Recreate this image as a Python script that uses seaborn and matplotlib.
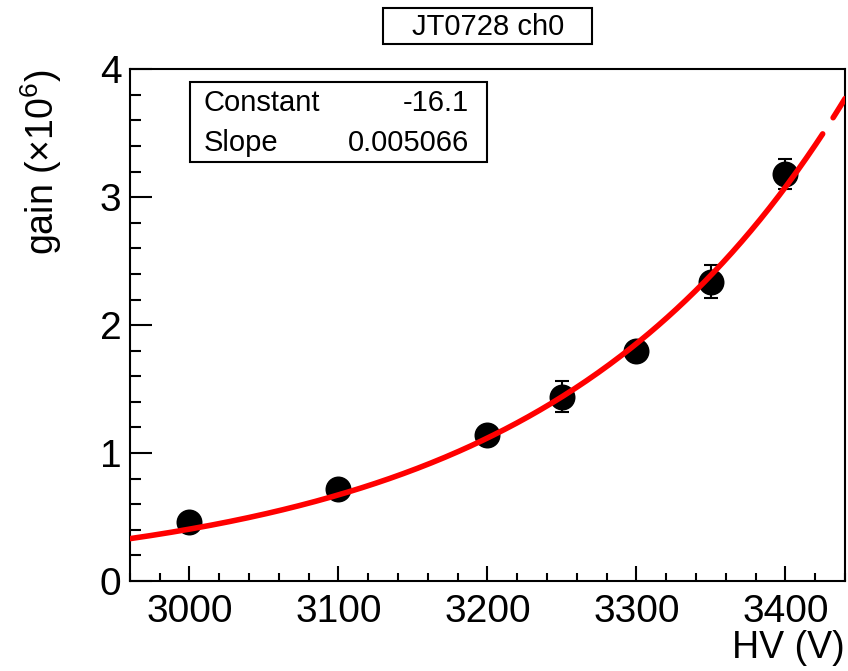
import numpy as np
import pandas as pd
import matplotlib
matplotlib.use("Agg")
import matplotlib.pyplot as plt
import seaborn as sns
from matplotlib.ticker import MultipleLocator

# measured gain points (units of 1e6)
hv = [3000, 3100, 3200, 3250, 3300, 3350, 3400]
gain = [0.46, 0.72, 1.14, 1.44, 1.80, 2.34, 3.18]
gain_err = [0.02, 0.03, 0.05, 0.12, 0.06, 0.13, 0.12]

# exponential fit parameters
fit_const = -16.1
fit_slope = 0.005066

title = "JT0728 ch0"

sns.set_style("ticks")
plt.rcParams['font.family'] = ['Liberation Sans', 'DejaVu Sans']
plt.rcParams['mathtext.fontset'] = 'custom'
plt.rcParams['mathtext.rm'] = 'Liberation Sans'
plt.rcParams['mathtext.it'] = 'Liberation Sans'
plt.rcParams['text.color'] = 'black'
plt.rcParams['axes.labelcolor'] = 'black'
plt.rcParams['xtick.color'] = 'black'
plt.rcParams['ytick.color'] = 'black'

df = pd.DataFrame({'hv': hv, 'gain': gain, 'err': gain_err})

fig = plt.figure(figsize=(8.48, 6.71), dpi=100)
ax = fig.add_axes([0.153, 0.134, 0.8435, 0.763])

# fit curve, drawn with the small gap near the top end like the original
x1 = np.linspace(2960, 3425, 300)
x2 = np.linspace(3432, 3440, 10)
for xs in (x1, x2):
    sns.lineplot(x=xs, y=np.exp(fit_const + fit_slope * xs), color='#ff0000',
                 linewidth=4, ax=ax, zorder=3)

ax.errorbar(df['hv'], df['gain'], yerr=df['err'], fmt='none', ecolor='black',
            elinewidth=1.5, capsize=5, capthick=1.5, zorder=2)
sns.scatterplot(data=df, x='hv', y='gain', color='black', s=300,
                edgecolor='black', ax=ax, zorder=2)

ax.set_xlim(2960, 3440)
ax.set_ylim(0, 4)
ax.xaxis.set_major_locator(MultipleLocator(100))
ax.xaxis.set_minor_locator(MultipleLocator(20))
ax.yaxis.set_major_locator(MultipleLocator(1))
ax.yaxis.set_minor_locator(MultipleLocator(0.2))
ax.tick_params(which='both', direction='in', width=1.5, labelsize=28)
ax.tick_params(axis='x', which='major', length=11, pad=9)
ax.tick_params(axis='x', which='minor', length=5.5)
ax.tick_params(axis='y', which='major', length=16, pad=6)
ax.tick_params(axis='y', which='minor', length=8)
for s in ax.spines.values():
    s.set_linewidth(1.5)
    s.set_color('black')
    s.set_visible(True)

ax.set_xlabel("HV (V)", fontsize=27, loc='right', labelpad=0)
ax.set_ylabel(r"gain ($\times$10$^{6}$)", fontsize=27, loc='top', labelpad=26)

# stats box
ax.text(0.1035, 0.934, "Constant", transform=ax.transAxes, fontsize=21, va='center')
ax.text(0.1035, 0.855, "Slope", transform=ax.transAxes, fontsize=21, va='center')
ax.text(0.474, 0.934, f"{fit_const:.1f}", transform=ax.transAxes, fontsize=21,
        va='center', ha='right')
ax.text(0.474, 0.855, f"{fit_slope:.6f}", transform=ax.transAxes, fontsize=21,
        va='center', ha='right')
ax.add_patch(plt.Rectangle((0.084, 0.818), 0.415, 0.157, transform=ax.transAxes,
                           fill=False, edgecolor='black', linewidth=1.5, zorder=5))

# title box
fig.patches.append(plt.Rectangle((0.4517, 0.9344), 0.2465, 0.0536,
                                 transform=fig.transFigure, fill=False,
                                 edgecolor='black', linewidth=1.5))
fig.text(0.5755, 0.960, title, fontsize=21, ha='center', va='center')

plt.savefig("out.png", dpi=100)
